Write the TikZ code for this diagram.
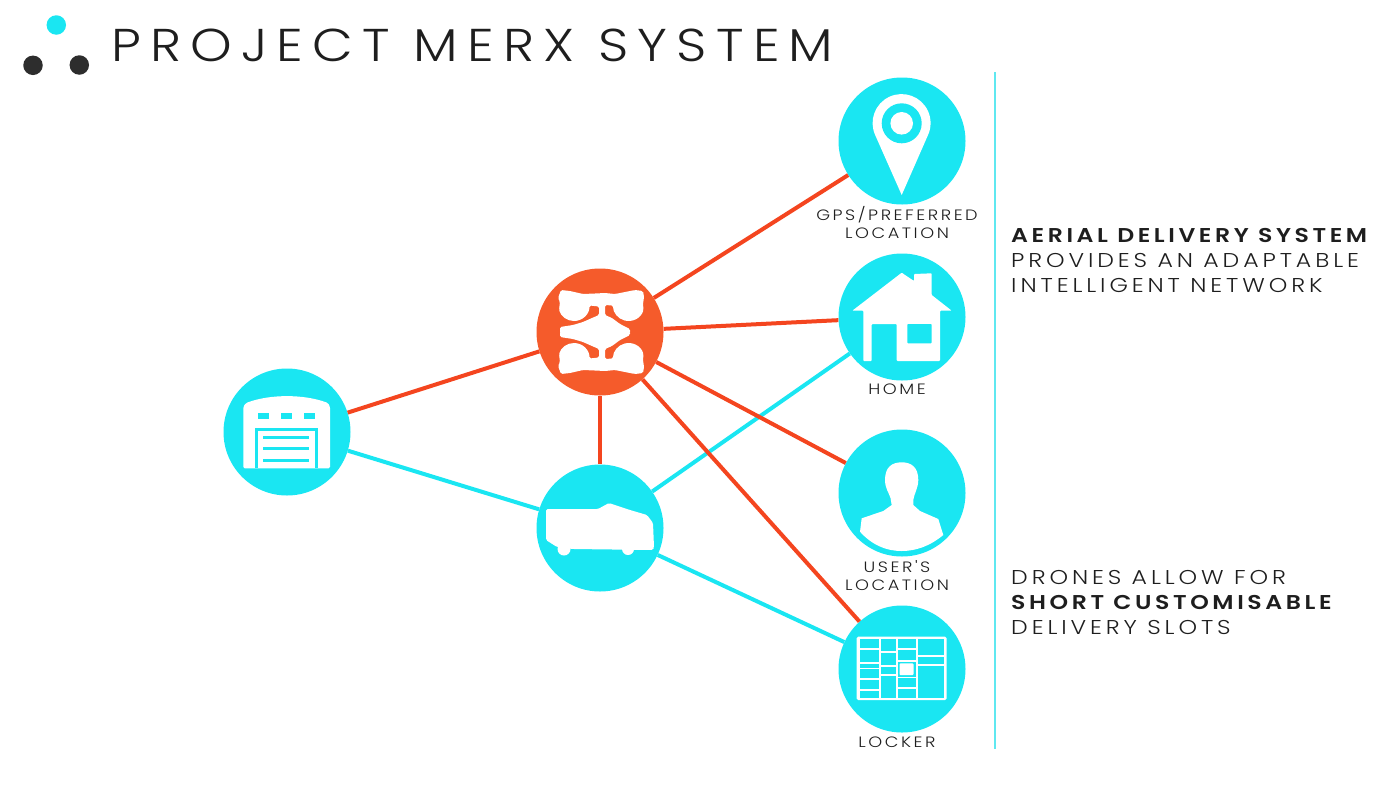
\documentclass[tikz,border=0pt]{standalone}
\usepackage{fontspec}
\setmainfont{Poppins}
\newfontfamily\merxtitle[LetterSpace=20,FakeStretch=1.15]{Poppins Light}
\newfontfamily\merxtext[LetterSpace=19.5,FakeStretch=1.18]{Poppins Light}
\newfontfamily\merxstrong[LetterSpace=18,FakeStretch=1.18]{Poppins SemiBold}
\newfontfamily\merxsmall[LetterSpace=17,FakeStretch=1.18]{Poppins Light}
\usetikzlibrary{arrows.meta,positioning,shapes}
\definecolor{merxblue}{HTML}{1AE6F2}
\definecolor{merxred}{HTML}{F55B2B}
\definecolor{merxline}{HTML}{F4451F}
\definecolor{merxrule}{HTML}{5FE8F0}
\definecolor{merxdark}{HTML}{2D2D2D}
\definecolor{merxink}{HTML}{1E1E1E}
\tikzset{
  bluenode/.style={circle,fill=merxblue,inner sep=0,minimum size=127pt},
  rednode/.style={circle,fill=merxred,inner sep=0,minimum size=127pt},
  logodot/.style={circle,inner sep=0,minimum size=19.5pt},
  redline/.style={merxline,line width=4pt},
  blueline/.style={merxblue,line width=4pt},
  nodetext/.style={inner sep=0,anchor=base,text=merxink,font=\fontsize{15}{18}\selectfont\merxsmall},
  sidetext/.style={inner sep=0,anchor=base west,text=merxink,font=\fontsize{20}{25}\selectfont\merxtext},
  sidebold/.style={sidetext,font=\fontsize{20}{25}\selectfont\merxstrong},
  icon/.style={fill=white,rounded corners=1.5pt}
}
\begin{document}
\begin{tikzpicture}[x=1pt,y=-1pt]
\useasboundingbox (0,0) rectangle (1400,788);
\node[logodot,fill=merxblue] (n_dot0) at (56.3,25) {};
\node[logodot,fill=merxdark] (n_dot1) at (33,65.3) {};
\node[logodot,fill=merxdark] (n_dot2) at (79.3,65) {};
\node[inner sep=0,anchor=base west,text=merxink,font=\fontsize{46}{50}\selectfont\merxtitle] (n_title) at (111,61.7) {PROJECT MERX SYSTEM};
\node[bluenode] (n_depot) at (287,432) {};
\node[rednode] (n_drone) at (600,332) {};
\node[bluenode] (n_van) at (600,528) {};
\node[bluenode] (n_pin) at (902,141) {};
\node[bluenode] (n_home) at (902,317) {};
\node[bluenode] (n_user) at (902,493) {};
\node[bluenode] (n_locker) at (902,669) {};
\draw[blueline] (n_depot) -- (n_van);
\draw[blueline] (n_van) -- (n_home);
\draw[blueline] (n_van) -- (n_locker);
\draw[redline] (n_depot) -- (n_drone);
\draw[redline] (n_drone) -- (n_van);
\draw[redline] (n_drone) -- (n_pin);
\draw[redline] (n_drone) -- (n_home);
\draw[redline] (n_drone) -- (n_user);
\draw[redline] (n_drone) -- (n_locker);
\coordinate (n_ruletop) at (995,72);
\coordinate (n_rulebot) at (995,749);
\draw[merxrule,line width=2pt] (n_ruletop) -- (n_rulebot);
\node[nodetext] (n_l0) at (897,220) {GPS/PREFERRED};
\node[nodetext] (n_l1) at (897,238) {LOCATION};
\node[nodetext] (n_l2) at (897,394.3) {HOME};
\node[nodetext] (n_l3) at (897,572.7) {USER'S};
\node[nodetext] (n_l4) at (897,590.7) {LOCATION};
\node[nodetext] (n_l5) at (897,747.7) {LOCKER};
\node[sidebold] (n_s0) at (1011,242) {AERIAL DELIVERY SYSTEM};
\node[sidetext] (n_s1) at (1011,267) {PROVIDES AN ADAPTABLE};
\node[sidetext] (n_s2) at (1011,292) {INTELLIGENT NETWORK};
\node[sidetext] (n_s3) at (1011,584) {DRONES ALLOW FOR};
\node[sidebold] (n_s4) at (1011,609) {SHORT CUSTOMISABLE};
\node[sidetext] (n_s5) at (1011,634) {DELIVERY SLOTS};
\begin{scope}[shift={(n_drone.center)}]
\foreach \s in {1,-1}
  \fill[icon,yscale=\s] (-40,1) -- (-40,-5) -- (-27,-7) -- (-17,-10) -- (-8,-14) -- (-1,-17) -- (-1,-25.5) -- (-10.5,-26.5) arc[start angle=0,end angle=165,radius=15.5] -- (-40,-30) -- (-42,-34) -- (-39,-42) -- (-30,-41) -- (-17,-38) -- (-5,-38.5) -- (5,-39) -- (15,-38) -- (35,-42) -- (43,-41) -- (44,-35) -- (43,-28) -- (43.5,-22.5) arc[start angle=15,end angle=180,radius=15.5] -- (12.5,-26.5) -- (5,-27) -- (5,-17) -- (12,-14) -- (20,-8) -- (30,-3) -- (30,1) -- cycle;
\end{scope}
\fill[icon] (546,509) -- (598,509) -- (609,503) -- (630,510) -- (647,515) -- (653,523) -- (654,547) -- (653,550) -- (573,549) -- (557,547) -- (546,540) -- cycle;
\fill[white] (564,549) circle (6.5);
\fill[white] (628,549) circle (6);
\fill[icon] (243.3,406.7) -- (246,403) .. controls (270,394) and (304,394) .. (328,403) -- (330,406.7) -- (330,468.3) -- (243.3,468.3) -- cycle;
\foreach \xa/\xb in {258.3/269.3,281/292.3,304/315}
  \fill[merxblue] (\xa,413.3) rectangle (\xb,419);
\draw[merxblue,line width=3pt] (256.5,468.3) -- (256.5,429.2) -- (316.8,429.2) -- (316.8,468.3);
\foreach \y in {437.3,448.7,460.3}
  \draw[merxblue,line width=2.7pt] (263.3,\y) -- (309.3,\y);
\fill[icon,rounded corners=.8pt] (901.7,272.7) -- (914,281) -- (914,274) -- (931.7,273.3) -- (931.7,295) -- (951.7,310.7) -- (940,310.7) -- (940,361) -- (896.7,361) -- (896.7,324) -- (871.7,324) -- (871.7,361) -- (863.3,361) -- (863.3,310.7) -- (852.3,310.7) -- cycle;
\fill[merxblue,rounded corners=.8pt] (907.3,324) rectangle (931.7,343.3);
\fill[white] (885,480) .. controls (885,467) and (892,462.3) .. (901.7,462.3) .. controls (911,462.3) and (918.3,467) .. (918.3,480) .. controls (918.3,488) and (914,494) .. (913.3,500) -- (913.3,505) -- (920,511) -- (938.3,519) -- (943.3,535) .. controls (930,546) and (916,551) .. (901.7,551) .. controls (886,551) and (872,545) .. (860,531.7) -- (861.7,518.3) -- (883.3,511) -- (891.7,505) -- (890.5,498) .. controls (889,493) and (885,488) .. (885,480) -- cycle;
\fill[white] (901.7,195) -- (875.2,135.1) arc[start angle=155.5,end angle=384.5,radius=29] -- cycle;
\fill[merxblue] (901.7,123.3) circle (20);
\fill[white] (901.7,123.3) circle (11.3);
\fill[white,rounded corners=1.5pt] (856.7,636.7) rectangle (946.7,700);
\foreach \xa/\xb/\ya/\yb in {860/879/639.3/648.3,860/879/650/662.3,860/879/664/667.7,860/879/669.3/678.3,860/879/680/689,860/879/690.7/697.7,881/896/639.3/651,881/896/652.7/665.3,881/896/667/674,881/896/675.7/697.7,898.3/916/639.3/648.3,898.3/916/650/660.3,898.3/916/662/676.7,898.3/916/678.3/687,898.3/916/689/697.7,918/944/639.3/655,918/944/656.7/664,918/944/665.7/697.7}
  \fill[merxblue] (\xa,\ya) rectangle (\xb,\yb);
\fill[white,rounded corners=1pt] (899.5,663.3) rectangle (913.5,675);
\end{tikzpicture}
\end{document}
